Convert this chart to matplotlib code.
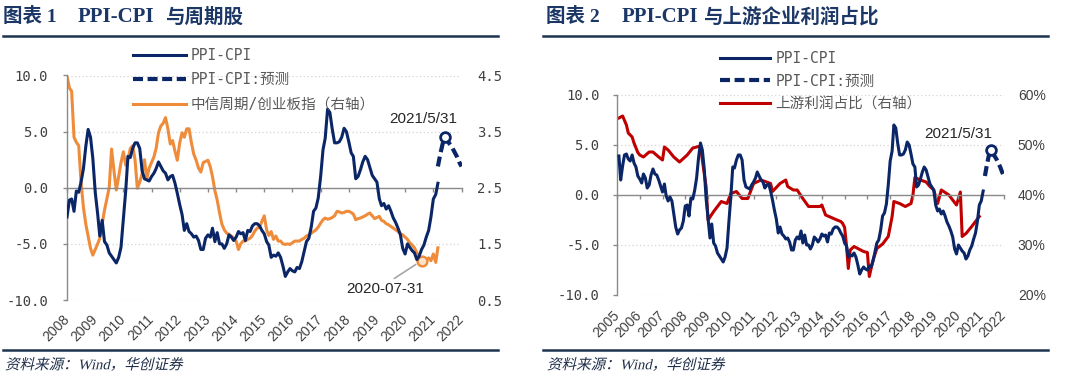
import matplotlib
matplotlib.use('Agg')
import matplotlib.pyplot as plt
import pandas as pd
from matplotlib.font_manager import FontProperties
from matplotlib.lines import Line2D
from matplotlib.patheffects import AbstractPathEffect
from matplotlib.transforms import Affine2D

# ---------------------------------------------------------------- data
# PPI-CPI (monthly, %), from 2005-01
ppi_cpi_start = '2005-01'
ppi_cpi = [
    3.9, 1.5, 2.9, 4.0, 4.1, 3.6, 3.4, 4.0, 3.2, 2.8, 1.9, 1.6,
    1.2, 2.1, 1.7, 0.7, 1.0, 2.0, 2.6, 2.1, 2.0, 1.5, 0.9, 0.3,
    1.1, -0.1, -0.6, -0.2, -0.6, -1.9, -3.2, -3.9, -3.5, -3.3, -2.6, -1.1,
    -1.0, -2.1, -0.3, -0.4, 0.5, 1.7, 3.7, 5.2, 4.5, 2.6, -0.4, -2.3,
    -4.3, -2.9, -4.8, -5.1, -5.8, -6.1, -6.4, -6.7, -6.2, -5.3, -2.7, -0.2,
    2.8, 2.7, 3.5, 4.0, 4.0, 3.5, 1.5, 0.8, 0.7, 0.6, 1.0, 1.3,
    1.7, 2.3, 1.9, 1.5, 1.3, 0.7, 1.0, 1.1, 0.4, -0.5, -1.5, -2.4,
    -3.8, -3.2, -3.9, -4.1, -4.4, -4.3, -4.7, -5.5, -5.5, -4.5, -4.2, -4.4,
    -3.6, -4.8, -4.0, -5.0, -5.0, -5.4, -5.0, -4.2, -4.4, -4.7, -4.4, -3.9,
    -4.1, -4.0, -4.7, -3.8, -3.9, -3.4, -3.2, -3.2, -3.4, -3.8, -4.1, -4.8,
    -5.1, -6.2, -6.0, -6.1, -5.8, -6.2, -7.0, -7.9, -7.5, -7.2, -7.4, -7.5,
    -7.1, -7.2, -6.6, -5.7, -4.8, -4.5, -3.5, -2.1, -1.8, -0.9, 1.0, 3.4,
    4.4, 7.0, 6.7, 5.2, 4.0, 4.0, 4.1, 4.5, 5.3, 5.0, 4.1, 3.1,
    2.8, 0.8, 1.0, 1.6, 2.3, 2.8, 2.5, 1.8, 1.1, 0.8, 0.5, -1.0,
    -1.6, -1.4, -1.9, -1.6, -2.1, -2.7, -3.1, -3.6, -4.2, -5.4, -5.9, -5.0,
    -5.3, -5.6, -5.8, -6.4, -6.1, -5.5, -5.1, -4.4, -3.8, -2.6, -1.0, -0.6,
    0.4,
]
left_ppi_from = '2007-11'

# PPI-CPI forecast
forecast_months = ['2021-02', '2021-03', '2021-04', '2021-05', '2021-06', '2021-07',
                   '2021-08', '2021-09', '2021-10', '2021-11', '2021-12']
forecast_values = [1.9, 3.0, 3.9, 4.5, 4.2, 3.9, 3.6, 3.2, 2.8, 2.3, 1.9]
forecast_mark = '2021-05'
forecast_label = '2021/5/31'

# CITIC cyclical / ChiNext ratio (monthly, right axis), from 2007-12
cycle_start = '2007-12'
cycle_ratio = [
    4.49, 4.28, 4.22, 3.40, 3.31, 3.25, 2.60, 2.15, 1.85, 1.64, 1.42, 1.30,
    1.40, 1.50, 1.60, 1.85, 2.10, 2.30, 2.50, 3.19, 2.80, 2.46, 2.70, 2.95,
    3.14, 2.90, 3.00, 3.20, 3.25, 3.00, 2.49, 2.60, 2.75, 3.00, 2.66, 2.85,
    2.95, 3.05, 3.20, 3.48, 3.60, 3.65, 3.75, 3.55, 3.28, 3.34, 3.15, 2.99,
    3.30, 3.48, 3.40, 3.55, 3.55, 3.30, 3.10, 2.99, 2.85, 2.78, 2.95, 2.97,
    2.99, 2.87, 2.70, 2.45, 2.28, 2.05, 1.85, 1.75, 1.69, 1.67, 1.64, 1.60,
    1.55, 1.40, 1.50, 1.55, 1.55, 1.58, 1.60, 1.65, 1.73, 1.78, 1.80, 1.90,
    2.00, 1.75, 1.65, 1.72, 1.58, 1.64, 1.55, 1.55, 1.50, 1.49, 1.50, 1.49,
    1.52, 1.55, 1.55, 1.55, 1.58, 1.60, 1.64, 1.66, 1.69, 1.72, 1.75, 1.80,
    1.87, 1.93, 1.96, 1.94, 1.95, 1.97, 2.00, 2.08, 2.07, 2.05, 2.06, 2.08,
    2.08, 2.06, 2.03, 1.93, 1.95, 1.96, 1.98, 2.00, 2.03, 2.05, 2.00, 1.95,
    1.97, 1.99, 1.92, 1.90, 1.86, 1.84, 1.81, 1.78, 1.75, 1.72, 1.68, 1.66,
    1.62, 1.58, 1.52, 1.48, 1.43, 1.34, 1.28, 1.20, 1.17, 1.22, 1.25, 1.20,
    1.32, 1.17, 1.43,
]
cycle_mark = '2020-07'
cycle_label = '2020-07-31'

# Upstream profit share (%, right axis)
red_months = ['2005-01', '2005-03', '2005-05', '2005-06', '2005-08', '2005-09', '2005-11', '2005-12',
              '2006-02', '2006-05', '2006-07', '2006-10', '2006-12', '2007-01', '2007-03', '2007-06',
              '2007-09', '2008-01', '2008-04', '2008-08', '2008-09', '2008-11', '2008-12', '2009-03',
              '2009-07', '2009-10', '2009-12', '2010-03', '2010-06', '2010-09', '2010-12', '2011-04',
              '2011-09', '2011-10', '2012-02', '2012-05', '2012-06', '2012-09', '2012-11', '2013-02',
              '2013-05', '2013-11', '2013-12', '2014-02', '2014-08', '2014-10', '2014-11', '2014-12',
              '2015-01', '2015-02', '2015-03', '2015-05', '2015-10', '2015-12', '2016-01', '2016-03',
              '2016-05', '2016-08', '2016-11', '2017-01', '2017-02', '2017-05', '2017-08', '2017-11',
              '2017-12', '2018-01', '2018-04', '2018-07', '2018-09', '2018-11', '2019-01', '2019-03',
              '2019-07', '2019-11', '2020-01', '2020-02', '2020-04', '2020-07', '2020-11']
red_values = [55.4, 55.8, 54.0, 52.4, 51.6, 50.4, 48.5, 48.0,
              47.6, 48.6, 48.6, 47.6, 47.0, 49.6, 49.0, 47.6,
              46.6, 48.0, 49.4, 49.8, 47.0, 41.6, 35.0, 36.7,
              38.7, 38.3, 40.3, 40.7, 39.3, 39.3, 42.3, 43.0,
              42.3, 40.7, 42.3, 43.0, 41.7, 41.0, 41.0, 39.3,
              37.7, 37.7, 38.0, 36.0, 35.0, 34.7, 34.3, 33.5,
              29.7, 25.3, 29.0, 29.7, 28.7, 28.5, 23.7, 27.0,
              29.3, 30.2, 31.7, 35.7, 38.7, 38.3, 37.7, 38.3,
              40.0, 43.5, 43.0, 42.6, 41.7, 41.0, 38.3, 41.0,
              40.0, 38.0, 40.6, 31.7, 32.3, 33.7, 35.7]

left_years = list(range(2008, 2023))
right_years = list(range(2005, 2023))
left_yticks = [-10, -5, 0, 5, 10]
left_r_ticks = [0.5, 1.5, 2.5, 3.5, 4.5]
right_r_ticks = [20, 30, 40, 50, 60]

titles = [('图表 1', 'PPI-CPI', '与周期股'), ('图表 2', 'PPI-CPI', '与上游企业利润占比')]
legend_left = ['PPI-CPI', 'PPI-CPI:预测', '中信周期/创业板指（右轴）']
legend_right = ['PPI-CPI', 'PPI-CPI:预测', '上游利润占比（右轴）']
source_text = '资料来源：Wind，华创证券'

# ---------------------------------------------------------------- style
NAVY = '#0b2667'
ORANGE = '#ef8c3b'
RED = '#c00000'
TXT = '#404040'
GRID = '#d4d4d4'
AXC = '#8a8a8a'
TITLE_C = '#1c3766'
RULE_C = '#1d3450'
MONO_CJK = ['DejaVu Sans Mono', 'Noto Sans CJK SC']
SANS = ['Liberation Sans', 'DejaVu Sans']
TITLE_F = ['Liberation Serif', 'Noto Sans CJK SC']

W, H = 1073, 380
fig = plt.figure(figsize=(W / 100, H / 100), dpi=100)
fig.patch.set_facecolor('white')


def fx(px):
    return px / W


def fy(py):
    return 1 - py / H


def month_end(periods):
    return pd.PeriodIndex(periods, freq='M').to_timestamp(how='end')


class Skew(AbstractPathEffect):
    def __init__(self, y0, deg=13):
        super().__init__()
        self.y0 = y0
        self.deg = deg

    def draw_path(self, renderer, gc, tpath, affine, rgbFace=None):
        t = affine + Affine2D().translate(0, -self.y0).skew_deg(self.deg, 0).translate(0, self.y0)
        renderer.draw_path(gc, tpath, t, rgbFace)


def setup(ax, axt, years, xpad, ypad, rpad):
    ax.set_xlim(pd.Timestamp(f'{years[0]}-01-01'), pd.Timestamp(f'{years[-1]}-01-01'))
    ax.set_ylim(-10, 10)
    ax.set_xticks([pd.Timestamp(f'{y}-01-01') for y in years])
    ax.set_xticklabels([str(y) for y in years])
    ax.set_yticks(left_yticks)
    ax.set_yticklabels([f'{v:.1f}' for v in left_yticks])
    for s in ['top', 'right']:
        ax.spines[s].set_visible(False)
    ax.spines['bottom'].set_position(('data', 0))
    for s in ['bottom', 'left']:
        ax.spines[s].set_color(AXC)
        ax.spines[s].set_linewidth(1.0)
    ax.tick_params(axis='x', direction='out', length=3, width=1, color=AXC, pad=xpad,
                   labelsize=10, labelcolor=TXT)
    ax.tick_params(axis='y', direction='out', length=3, width=1, color=AXC, pad=ypad,
                   labelsize=10, labelcolor=TXT)
    for lab in ax.get_xticklabels():
        lab.set_rotation(45)
        lab.set_ha('right')
        lab.set_va('center')
        lab.set_rotation_mode('anchor')
        lab.set_fontfamily(SANS)
    for lab in ax.get_yticklabels():
        lab.set_fontfamily('DejaVu Sans Mono')
    for s in axt.spines.values():
        s.set_visible(False)
    axt.tick_params(axis='y', length=0, pad=rpad, labelsize=10, labelcolor=TXT)
    axt.grid(True, axis='both', linestyle=(0, (1, 2)), color=GRID, linewidth=0.9)
    axt.set_axisbelow(True)
    ax.set_zorder(axt.get_zorder() + 1)
    ax.patch.set_visible(False)
    axt.patch.set_visible(True)
    axt.patch.set_facecolor('white')


# ---------------------------------------------------------------- left chart
axL = fig.add_axes([fx(67), fy(300), fx(461.5 - 67), (300 - 75.5) / H])
axLt = axL.twinx()

ppi_periods = pd.period_range(ppi_cpi_start, periods=len(ppi_cpi), freq='M')
ppi_series = pd.Series(ppi_cpi, index=ppi_periods)
left_ppi = ppi_series[ppi_series.index >= pd.Period(left_ppi_from, freq='M')]
left_dates = (left_ppi.index + 1).to_timestamp(how='end')
fc_dates = month_end(forecast_months)
fc_series = pd.Series(forecast_values, index=pd.PeriodIndex(forecast_months, freq='M'))
fc_mark_date = month_end([forecast_mark])
fc_mark_val = fc_series[pd.Period(forecast_mark, freq='M')]

cyc_periods = pd.period_range(cycle_start, periods=len(cycle_ratio), freq='M')
cyc_series = pd.Series(cycle_ratio, index=cyc_periods)
cyc_dates = cyc_periods.to_timestamp(how='end')

l1, = axL.plot(left_dates, left_ppi.values, color=NAVY, lw=2.2, label=legend_left[0], zorder=3)
l2, = axL.plot(fc_dates, forecast_values, color=NAVY, lw=3.0, linestyle=(0, (2.4, 1.1)),
               label=legend_left[1], zorder=3)
axL.plot(fc_mark_date, [fc_mark_val], 'o', ms=7, mfc='white', mec=NAVY, mew=2.0, zorder=4)
axL.annotate(forecast_label, xy=(fc_mark_date[0], fc_mark_val), xytext=(-22, 18),
             textcoords='offset pixels', ha='center', va='center', fontsize=11,
             fontfamily=SANS, color='#262626')

l3, = axLt.plot(cyc_dates, cycle_ratio, color=ORANGE, lw=2.2, label=legend_left[2])
cyc_mark_date = month_end([cycle_mark])
cyc_mark_val = cyc_series[pd.Period(cycle_mark, freq='M')]
axLt.plot(cyc_mark_date, [cyc_mark_val], 'o', ms=7, mfc='#fde3cc', mec=ORANGE, mew=1.8, zorder=4)
axLt.annotate(cycle_label, xy=(cyc_mark_date[0], cyc_mark_val), xytext=(385, H - 289),
              textcoords='figure pixels', ha='center', va='center', fontsize=11,
              fontfamily=SANS, color='#262626',
              arrowprops=dict(arrowstyle='-', color='#a6a6a6', lw=1.2, shrinkA=1, shrinkB=5,
                              relpos=(0.55, 1.0)))
axLt.set_ylim(0.5, 4.5)
axLt.set_yticks(left_r_ticks)
axLt.set_yticklabels([f'{v:.1f}' for v in left_r_ticks])
for lab in axLt.get_yticklabels():
    lab.set_fontfamily('DejaVu Sans Mono')

setup(axL, axLt, left_years, xpad=90, ypad=10.5, rpad=11.5)

leg_prop = FontProperties(family=MONO_CJK, size=10.5)
axL.legend([l1, l2, l3], legend_left, loc='upper left', bbox_to_anchor=(fx(133), fy(48)),
           bbox_transform=fig.transFigure, frameon=False, handlelength=3.6, handletextpad=0.36,
           labelspacing=0.64, borderpad=0, borderaxespad=0, prop=leg_prop, labelcolor='#595959')

# ---------------------------------------------------------------- right chart
axR = fig.add_axes([fx(617), fy(295), fx(1004 - 617), (295 - 95) / H])
axRt = axR.twinx()

right_dates = ppi_periods.to_timestamp(how='end')
r1, = axR.plot(right_dates, ppi_cpi, color=NAVY, lw=2.2, label=legend_right[0], zorder=3)
r2, = axR.plot(fc_dates, forecast_values, color=NAVY, lw=3.0, linestyle=(0, (2.4, 1.1)),
               label=legend_right[1], zorder=3)
axR.plot(fc_mark_date, [fc_mark_val], 'o', ms=7, mfc='white', mec=NAVY, mew=2.0, zorder=4)
axR.annotate(forecast_label, xy=(fc_mark_date[0], fc_mark_val), xytext=(-32, 16),
             textcoords='offset pixels', ha='center', va='center', fontsize=11,
             fontfamily=SANS, color='#262626')

r3, = axRt.plot(month_end(red_months), red_values, color=RED, lw=2.2, label=legend_right[2])
axRt.set_ylim(20, 60)
axRt.set_yticks(right_r_ticks)
axRt.set_yticklabels([f'{v:d}%' for v in right_r_ticks])
for lab in axRt.get_yticklabels():
    lab.set_fontfamily(SANS)

setup(axR, axRt, right_years, xpad=82, ypad=9.5, rpad=10)

axR.legend([r1, r2, r3], legend_right, loc='upper left', bbox_to_anchor=(fx(720), fy(51)),
           bbox_transform=fig.transFigure, frameon=False, handlelength=3.45, handletextpad=0.36,
           labelspacing=0.52, borderpad=0, borderaxespad=0, prop=leg_prop, labelcolor='#595959')

# ---------------------------------------------------------------- titles, rules, source
title_x = [(3, 78, 165), (546, 622, 703)]
title_sizes = (14, 15, 14)
for (a, b, c), (xa, xb, xc) in zip(titles, title_x):
    for txt, x, sz in zip((a, b, c), (xa, xb, xc), title_sizes):
        fig.text(fx(x), fy(17), txt, fontfamily=TITLE_F, fontweight='bold', fontsize=sz,
                 color=TITLE_C, va='center', ha='left')

for x0, x1 in [(3, 498), (543, 1048)]:
    fig.add_artist(Line2D([fx(x0), fx(x1)], [fy(36), fy(36)], transform=fig.transFigure,
                          color=RULE_C, lw=1.8))
    fig.add_artist(Line2D([fx(x0), fx(x1)], [fy(350), fy(350)], transform=fig.transFigure,
                          color=RULE_C, lw=1.8))

for x in (5, 547):
    fig.text(fx(x), fy(365), source_text, fontfamily=TITLE_F, fontsize=10.5, color='#1f2f4a',
             va='center', ha='left', path_effects=[Skew(y0=H - 369)])

fig.savefig('out.png', dpi=100, facecolor='white')
